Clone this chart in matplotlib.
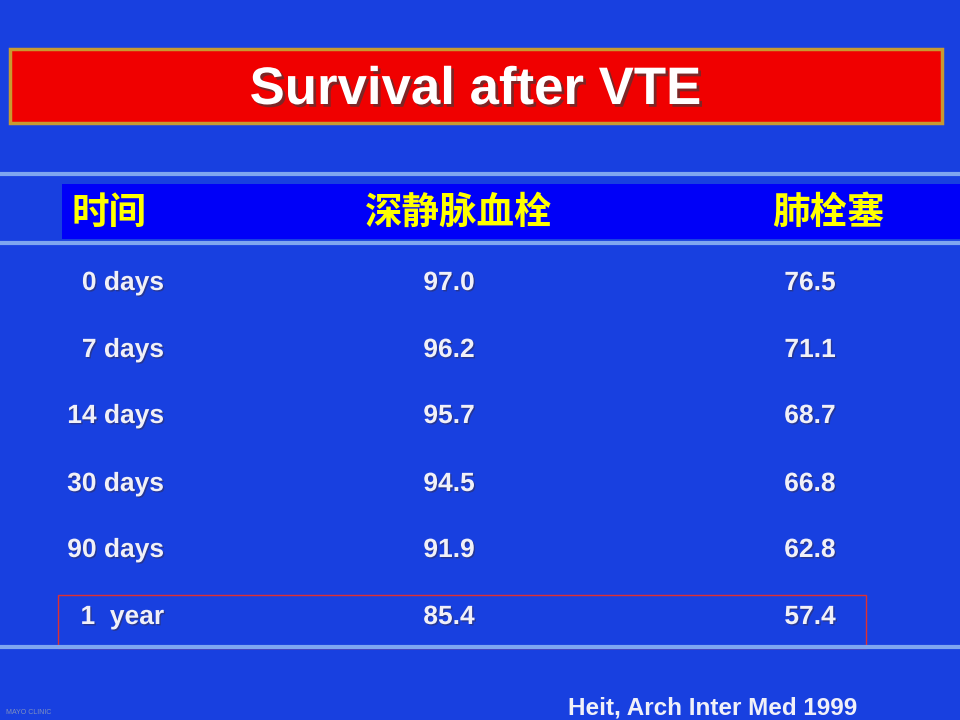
import matplotlib
matplotlib.use("Agg")
import matplotlib.pyplot as plt
from matplotlib.patches import Rectangle
import matplotlib.patheffects as pe

# table content
title = "Survival after VTE"
headers = ["时间", "深静脉血栓", "肺栓塞"]
periods = ["0 days", "7 days", "14 days", "30 days", "90 days", "1  year"]
dvt = ["97.0", "96.2", "95.7", "94.5", "91.9", "85.4"]
pulm = ["76.5", "71.1", "68.7", "66.8", "62.8", "57.4"]
source = "Heit, Arch Inter Med 1999"

BG = "#1840e0"
LATIN = ["Liberation Sans Narrow", "Liberation Sans", "DejaVu Sans"]
CJK = ["Noto Sans CJK SC", "DejaVu Sans"]

fig = plt.figure(figsize=(9.6, 7.2), dpi=100)
fig.patch.set_facecolor(BG)
ax = fig.add_axes([0, 0, 1, 1])
ax.set_xlim(0, 960)
ax.set_ylim(720, 0)
ax.axis("off")
ax.set_facecolor(BG)

# title banner
ax.add_patch(Rectangle((10, 49), 932, 74, facecolor="#f00000",
                       edgecolor="#c89a30", linewidth=2.5))
ax.text(475, 90, title, ha="center", va="center", color="white",
        fontsize=38, fontweight="bold", family=LATIN,
        path_effects=[pe.withSimplePatchShadow(offset=(2, -2), shadow_rgbFace="#603030", alpha=0.8)])

# separator lines
for y in (174, 243, 647):
    ax.plot([0, 960], [y, y], color="#7fa6f0", linewidth=3, solid_capstyle="butt")

# header band
ax.add_patch(Rectangle((62, 184), 898, 55, facecolor="#0000f8", edgecolor="none"))
for txt, x in zip(headers, [71, 459, 828]):
    ax.text(x, 212, txt, ha="left" if x == 71 else "center", va="center",
            color="#ffff00", fontsize=27, fontweight="bold", family=CJK)

# data rows
row_y = [283, 350, 416, 484, 550, 617]
shadow = [pe.withSimplePatchShadow(offset=(1, -1), shadow_rgbFace="#303060", alpha=0.6)]
for y, p, a, b in zip(row_y, periods, dvt, pulm):
    ax.text(164, y, p, ha="right", va="center", color="#f0f0f8",
            fontsize=19, fontweight="bold", family=LATIN, path_effects=shadow)
    ax.text(449, y, a, ha="center", va="center", color="#f0f0f8",
            fontsize=19, fontweight="bold", family=LATIN, path_effects=shadow)
    ax.text(810, y, b, ha="center", va="center", color="#f0f0f8",
            fontsize=19, fontweight="bold", family=LATIN, path_effects=shadow)

# highlight of the last row
ax.add_patch(Rectangle((58, 595), 808, 53, facecolor="none",
                       edgecolor="#e03030", linewidth=1))

# footer
ax.text(857, 708, source, ha="right", va="center", color="#f0f0f8",
        fontsize=17.5, fontweight="bold", family=LATIN)
ax.text(6, 712, "MAYO CLINIC", ha="left", va="center", color="#8090c0",
        fontsize=5, family=LATIN)

fig.savefig("out.png", dpi=100, facecolor=BG)
